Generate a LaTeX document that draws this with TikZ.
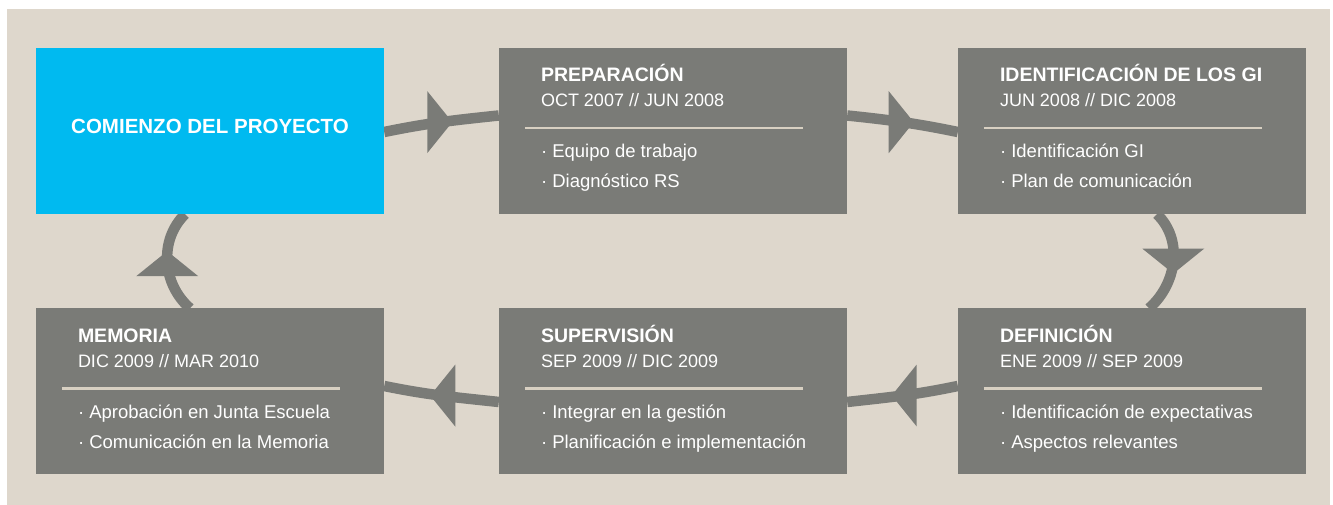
\documentclass[tikz,border=0pt]{standalone}
\usepackage{fontspec}
\setmainfont{Liberation Sans}
\usetikzlibrary{decorations.markings,backgrounds}
\definecolor{sand}{HTML}{DED7CC}
\definecolor{stonegray}{HTML}{7A7B77}
\definecolor{skyblue}{HTML}{00BAF0}
\definecolor{rulesand}{HTML}{D8D0C2}
\tikzset{phase box/.style={rectangle, fill=stonegray, minimum width=348pt, minimum height=166pt, inner sep=0pt},
        start box/.style={phase box, fill=skyblue},
        start text/.style={text=white, inner sep=0pt, font=\fontsize{20.5pt}{24pt}\selectfont\bfseries},
        phase title/.style={text=white, inner sep=0pt, anchor=base west,
                            font=\fontsize{19.5pt}{23pt}\selectfont\bfseries},
        phase date/.style={text=white, inner sep=0pt, anchor=base west,
                           font=\fontsize{18pt}{22pt}\selectfont},
        phase item/.style={phase date, font=\fontsize{18.5pt}{22pt}\selectfont},
        phase rule/.style={draw=rulesand, line width=2.5pt},
        cycle link/.style={draw=stonegray, line width=10.5pt, postaction={decorate},
                           decoration={markings, mark=at position 0.5 with {
                             \pgftransformresetnontranslations\pgftransformrotate{#1}
                             \fill[stonegray] (-14pt,31pt) -- (11pt,0pt) -- (-14pt,-31pt) -- cycle;}}},
        }
% name, position, title, dates, first item, second item
\newcommand{\phasebox}[6]{%
    \node[phase box] (#1) at (#2) {};
    \node[phase title] (#1-title) at ([xshift=42pt,yshift=-34pt]#1.north west) {#3};
    \node[phase date] (#1-date) at ([xshift=42pt,yshift=-59pt]#1.north west) {#4};
    \draw[phase rule] ([xshift=26pt,yshift=-80pt]#1.north west) -- ([xshift=-44pt,yshift=-80pt]#1.north east);
    \node[phase item] (#1-a) at ([xshift=42pt,yshift=-110pt]#1.north west) {· #5};
    \node[phase item] (#1-b) at ([xshift=42pt,yshift=-140pt]#1.north west) {· #6};
}

\begin{document}
\begin{tikzpicture}[x=1pt,y=1pt]
    \useasboundingbox (0,0) rectangle (1333,505);
    \begin{scope}[on background layer]
        \fill[sand] (7,0) rectangle (1330,496);
    \end{scope}

    \node[start box] (start) at (210,374) {};
    \node[start text] (start-title) at ([yshift=5pt]start.center) {COMIENZO DEL PROYECTO};

    \phasebox{prep}{673,374}{PREPARACIÓN}{OCT 2007 // JUN 2008}{Equipo de trabajo}{Diagnóstico RS}
    \phasebox{ident}{1132,374}{IDENTIFICACIÓN DE LOS GI}{JUN 2008 // DIC 2008}{Identificación GI}{Plan de comunicación}
    \phasebox{defin}{1132,113.5}{DEFINICIÓN}{ENE 2009 // SEP 2009}{Identificación de expectativas}{Aspectos relevantes}
    \phasebox{superv}{673,113.5}{SUPERVISIÓN}{SEP 2009 // DIC 2009}{Integrar en la gestión}{Planificación e implementación}
    \phasebox{memoria}{210,113.5}{MEMORIA}{DIC 2009 // MAR 2010}{Aprobación en Junta Escuela}{Comunicación en la Memoria}

    % the cycle, behind the boxes
    \begin{scope}[on background layer]
        \draw[cycle link=0] ([yshift=-1pt]start.east) to[out=11.6,in=186] ([yshift=15.5pt]prep.west);
        \draw[cycle link=0] ([yshift=15.5pt]prep.east) to[out=-6,in=168.4] ([yshift=-1pt]ident.west);
        \draw[cycle link=-90] ([xshift=25pt]ident.south) to[out=-44,in=41] ([xshift=17pt]defin.north);
        \draw[cycle link=180] ([yshift=5.5pt]defin.west) to[out=191.8,in=6.4] ([yshift=-10.5pt]superv.east);
        \draw[cycle link=180] ([yshift=-10.5pt]superv.west) to[out=173.8,in=348.4] ([yshift=5.5pt]memoria.east);
        \draw[cycle link=90] ([xshift=-20pt]memoria.north) to[out=139,in=224.5] ([xshift=-25pt]start.south);
    \end{scope}
\end{tikzpicture}
\end{document}
